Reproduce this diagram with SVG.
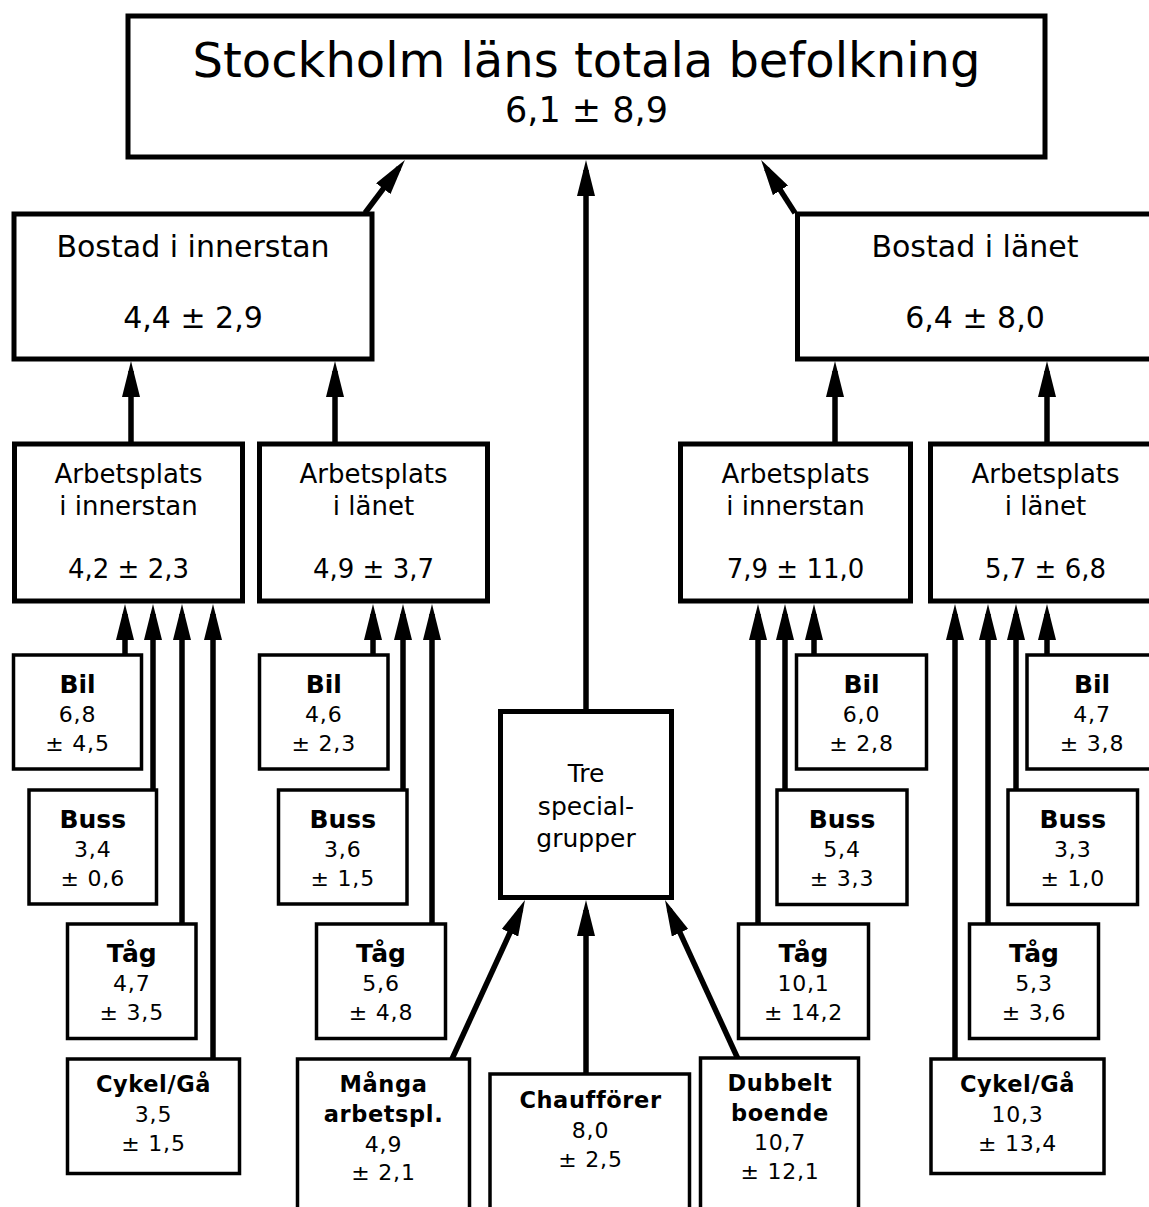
<svg xmlns="http://www.w3.org/2000/svg" width="1149" height="1207" viewBox="0 0 1149 1207">
<style>
text{font-family:"DejaVu Sans","Liberation Sans",sans-serif;fill:#000;text-anchor:middle}
.big{fill:#fff;stroke:#000;stroke-width:5}
.sm{fill:#fff;stroke:#000;stroke-width:3.5}
.t1{font-size:48px}
.n1{font-size:35px}
.h2{font-size:30px}
.h3{font-size:26px}
.tre{font-size:25px}
.b{font-size:25px;font-weight:bold}
.bs{font-size:22.5px;font-weight:bold;letter-spacing:0.6px}
.n{font-size:22px;letter-spacing:0.8px}
.c line{stroke:#000;stroke-width:5.5;fill:none}
.c .a{marker-end:url(#ah)}
</style>
<defs>
<marker id="ah" viewBox="0 0 36 18" refX="26" refY="9" markerWidth="36" markerHeight="18" markerUnits="userSpaceOnUse" orient="auto">
<path d="M0,0 L36,9 L0,18 z" fill="#000"/>
</marker>
</defs>
<rect width="1149" height="1207" fill="#fff"/>

<g id="connectors" class="c">
<line class="a" x1="365" y1="213" x2="398.9" y2="167.9"/>
<line class="a" x1="795" y1="213" x2="766.5" y2="168.4"/>
<line class="a" x1="586" y1="712" x2="586" y2="170"/>
<line class="a" x1="131" y1="444" x2="131" y2="371"/>
<line class="a" x1="335" y1="444" x2="335" y2="371"/>
<line class="a" x1="835" y1="444" x2="835" y2="371"/>
<line class="a" x1="1047" y1="444" x2="1047" y2="371"/>
<line class="a" x1="125" y1="655" x2="125" y2="614"/>
<line class="a" x1="153" y1="790" x2="153" y2="614"/>
<line class="a" x1="182" y1="924" x2="182" y2="614"/>
<line class="a" x1="213" y1="1059" x2="213" y2="614"/>
<line class="a" x1="373" y1="655" x2="373" y2="614"/>
<line class="a" x1="403" y1="790" x2="403" y2="614"/>
<line class="a" x1="432" y1="924" x2="432" y2="614"/>
<line class="a" x1="758" y1="924" x2="758" y2="614"/>
<line class="a" x1="785" y1="790" x2="785" y2="614"/>
<line class="a" x1="814" y1="655" x2="814" y2="614"/>
<line class="a" x1="955" y1="1059" x2="955" y2="614"/>
<line class="a" x1="988" y1="924" x2="988" y2="614"/>
<line class="a" x1="1016" y1="790" x2="1016" y2="614"/>
<line class="a" x1="1047" y1="655" x2="1047" y2="614"/>
<line class="a" x1="452" y1="1059" x2="520.8" y2="909.1"/>
<line class="a" x1="586" y1="1074" x2="586" y2="910"/>
<line class="a" x1="738" y1="1059" x2="669.2" y2="909.1"/>
</g>

<g id="total">
<rect class="big" x="128" y="16" width="917" height="141"/>
<text class="t1" x="586.5" y="77">Stockholm läns totala befolkning</text>
<text class="n1" x="586.5" y="122">6,1 ± 8,9</text>
</g>

<g id="bostad-innerstan">
<rect class="big" x="14" y="214" width="358" height="145"/>
<text class="h2" x="193" y="257">Bostad i innerstan</text>
<text class="h2" x="193" y="328">4,4 ± 2,9</text>
</g>

<g id="bostad-lanet">
<rect class="big" x="797.5" y="214" width="358" height="145"/>
<text class="h2" x="975" y="257">Bostad i länet</text>
<text class="h2" x="975" y="328">6,4 ± 8,0</text>
</g>

<g id="arb-inner-1">
<rect class="big" x="14.5" y="444" width="228" height="157"/>
<text class="h3" x="128.5" y="483">Arbetsplats</text>
<text class="h3" x="128.5" y="515">i innerstan</text>
<text class="h3" x="128.5" y="578">4,2 ± 2,3</text>
</g>

<g id="arb-lanet-1">
<rect class="big" x="259.5" y="444" width="228" height="157"/>
<text class="h3" x="373.5" y="483">Arbetsplats</text>
<text class="h3" x="373.5" y="515">i länet</text>
<text class="h3" x="373.5" y="578">4,9 ± 3,7</text>
</g>

<g id="arb-inner-2">
<rect class="big" x="680.5" y="444" width="230" height="157"/>
<text class="h3" x="795.5" y="483">Arbetsplats</text>
<text class="h3" x="795.5" y="515">i innerstan</text>
<text class="h3" x="795.5" y="578">7,9 ± 11,0</text>
</g>

<g id="arb-lanet-2">
<rect class="big" x="930.5" y="444" width="230" height="157"/>
<text class="h3" x="1045.5" y="483">Arbetsplats</text>
<text class="h3" x="1045.5" y="515">i länet</text>
<text class="h3" x="1045.5" y="578">5,7 ± 6,8</text>
</g>

<g id="bil-1">
<rect class="sm" x="13.5" y="655" width="128" height="114"/>
<text class="b" x="77.5" y="693">Bil</text>
<text class="n" x="77.5" y="722">6,8</text>
<text class="n" x="77.5" y="751">± 4,5</text>
</g>
<g id="buss-1">
<rect class="sm" x="29" y="790" width="127.5" height="114"/>
<text class="b" x="92.75" y="828">Buss</text>
<text class="n" x="92.75" y="857">3,4</text>
<text class="n" x="92.75" y="886">± 0,6</text>
</g>
<g id="tag-1">
<rect class="sm" x="67.5" y="924" width="128.5" height="114.5"/>
<text class="b" x="131.75" y="962">Tåg</text>
<text class="n" x="131.75" y="991">4,7</text>
<text class="n" x="131.75" y="1020">± 3,5</text>
</g>
<g id="cykel-1">
<rect class="sm" x="67.5" y="1059" width="172" height="114.5"/>
<text class="bs" x="153.5" y="1092">Cykel/Gå</text>
<text class="n" x="153.5" y="1122">3,5</text>
<text class="n" x="153.5" y="1151">± 1,5</text>
</g>

<g id="bil-2">
<rect class="sm" x="259.5" y="655" width="128.5" height="114"/>
<text class="b" x="323.75" y="693">Bil</text>
<text class="n" x="323.75" y="722">4,6</text>
<text class="n" x="323.75" y="751">± 2,3</text>
</g>
<g id="buss-2">
<rect class="sm" x="278.5" y="790" width="128.5" height="114"/>
<text class="b" x="342.75" y="828">Buss</text>
<text class="n" x="342.75" y="857">3,6</text>
<text class="n" x="342.75" y="886">± 1,5</text>
</g>
<g id="tag-2">
<rect class="sm" x="316.5" y="924" width="129" height="114.5"/>
<text class="b" x="381" y="962">Tåg</text>
<text class="n" x="381" y="991">5,6</text>
<text class="n" x="381" y="1020">± 4,8</text>
</g>

<g id="tre-special">
<rect class="big" x="500.5" y="711.5" width="171" height="186"/>
<text class="tre" x="586" y="782">Tre</text>
<text class="tre" x="586" y="815">special-</text>
<text class="tre" x="586" y="847">grupper</text>
</g>

<g id="manga">
<rect class="sm" x="297.5" y="1059" width="172" height="200"/>
<text class="bs" x="383.5" y="1092">Många</text>
<text class="bs" x="383.5" y="1122">arbetspl.</text>
<text class="n" x="383.5" y="1152">4,9</text>
<text class="n" x="383.5" y="1180">± 2,1</text>
</g>
<g id="chauffor">
<rect class="sm" x="490" y="1074" width="199.5" height="200"/>
<text class="bs" x="590.5" y="1108">Chaufförer</text>
<text class="n" x="590.5" y="1138">8,0</text>
<text class="n" x="590.5" y="1167">± 2,5</text>
</g>
<g id="dubbelt">
<rect class="sm" x="700.5" y="1058" width="158" height="200"/>
<text class="bs" x="780" y="1091">Dubbelt</text>
<text class="bs" x="780" y="1121">boende</text>
<text class="n" x="780" y="1150">10,7</text>
<text class="n" x="780" y="1179">± 12,1</text>
</g>

<g id="bil-3">
<rect class="sm" x="796.5" y="655" width="130" height="114"/>
<text class="b" x="861.5" y="693">Bil</text>
<text class="n" x="861.5" y="722">6,0</text>
<text class="n" x="861.5" y="751">± 2,8</text>
</g>
<g id="buss-3">
<rect class="sm" x="777" y="790" width="130" height="114.5"/>
<text class="b" x="842" y="828">Buss</text>
<text class="n" x="842" y="857">5,4</text>
<text class="n" x="842" y="886">± 3,3</text>
</g>
<g id="tag-3">
<rect class="sm" x="738.5" y="924" width="130" height="114.5"/>
<text class="b" x="803.5" y="962">Tåg</text>
<text class="n" x="803.5" y="991">10,1</text>
<text class="n" x="803.5" y="1020">± 14,2</text>
</g>

<g id="bil-4">
<rect class="sm" x="1027" y="655" width="130" height="114"/>
<text class="b" x="1092" y="693">Bil</text>
<text class="n" x="1092" y="722">4,7</text>
<text class="n" x="1092" y="751">± 3,8</text>
</g>
<g id="buss-4">
<rect class="sm" x="1008" y="790" width="129.5" height="114.5"/>
<text class="b" x="1072.75" y="828">Buss</text>
<text class="n" x="1072.75" y="857">3,3</text>
<text class="n" x="1072.75" y="886">± 1,0</text>
</g>
<g id="tag-4">
<rect class="sm" x="969.5" y="924" width="129" height="114.5"/>
<text class="b" x="1034" y="962">Tåg</text>
<text class="n" x="1034" y="991">5,3</text>
<text class="n" x="1034" y="1020">± 3,6</text>
</g>
<g id="cykel-2">
<rect class="sm" x="931" y="1059" width="173" height="114.5"/>
<text class="bs" x="1017.5" y="1092">Cykel/Gå</text>
<text class="n" x="1017.5" y="1122">10,3</text>
<text class="n" x="1017.5" y="1151">± 13,4</text>
</g>
</svg>
